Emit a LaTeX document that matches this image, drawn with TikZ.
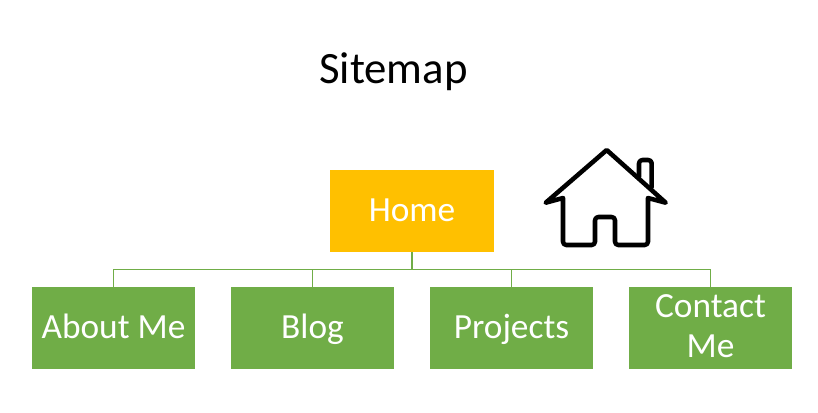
\documentclass[tikz,border=0pt]{standalone}
\usepackage{fontspec}
\setmainfont{Carlito}
\tikzset{
  homebox/.style={fill={rgb,255:red,255;green,192;blue,0},text=white,inner sep=0pt,minimum width=123pt,minimum height=61.5pt,text height=20pt,text depth=5pt,font=\fontsize{26.5}{29.5}\selectfont},
  pagebox/.style={fill={rgb,255:red,112;green,173;blue,71},text=white,inner sep=0pt,minimum width=122.5pt,minimum height=61.5pt,font=\fontsize{26.5}{29.5}\selectfont,align=center},
  oneline/.style={text height=20pt,text depth=5pt},
  treeline/.style={draw={rgb,255:red,112;green,173;blue,71},line width=0.75pt},
  houseline/.style={draw=black,line width=3.4pt,line join=round,line cap=round,rounded corners=2.5pt}
}
\begin{document}
\begin{tikzpicture}[x=0.75pt,y=0.75pt,yscale=-1,xscale=1]
    \useasboundingbox (0,0) rectangle (818,412);

    % Title
    \node (title) at (393.5,72) [font=\fontsize{33.6}{40}\selectfont] {Sitemap};

    % Boxes
    \node (home) at (412,211) [homebox] {Home};
    \node (about) at (113.5,328) [pagebox,oneline] {About Me};
    \node (blog) at (312.5,328) [pagebox,oneline] {Blog};
    \node (projects) at (511.5,328) [pagebox,oneline] {Projects};
    \node (contact) at (710.5,328) [pagebox] {Contact\\Me\rule[-3pt]{0pt}{3pt}};

    % Connectors
    \coordinate (bus) at (412,269);
    \draw [treeline,line width=1.25pt] (home.south) -- (bus);
    \draw [treeline] (about.north) |- (bus);
    \draw [treeline] (blog.north) |- (bus);
    \draw [treeline] (projects.north) |- (bus);
    \draw [treeline] (contact.north) |- (bus);

    % House
    \draw [houseline] (606.7,150) [sharp corners] -- (545.7,202.7) -- (563,198) [rounded corners=2.5pt] -- (563,245) -- (595,245) -- (595,217) -- (615,217) -- (615,245) -- (648,245) [sharp corners] -- (648,198) -- (665.7,202.7) -- cycle;
    \draw [houseline] (639,177) -- (639,160) -- (651.7,160) -- (651.7,187);
\end{tikzpicture}
\end{document}
